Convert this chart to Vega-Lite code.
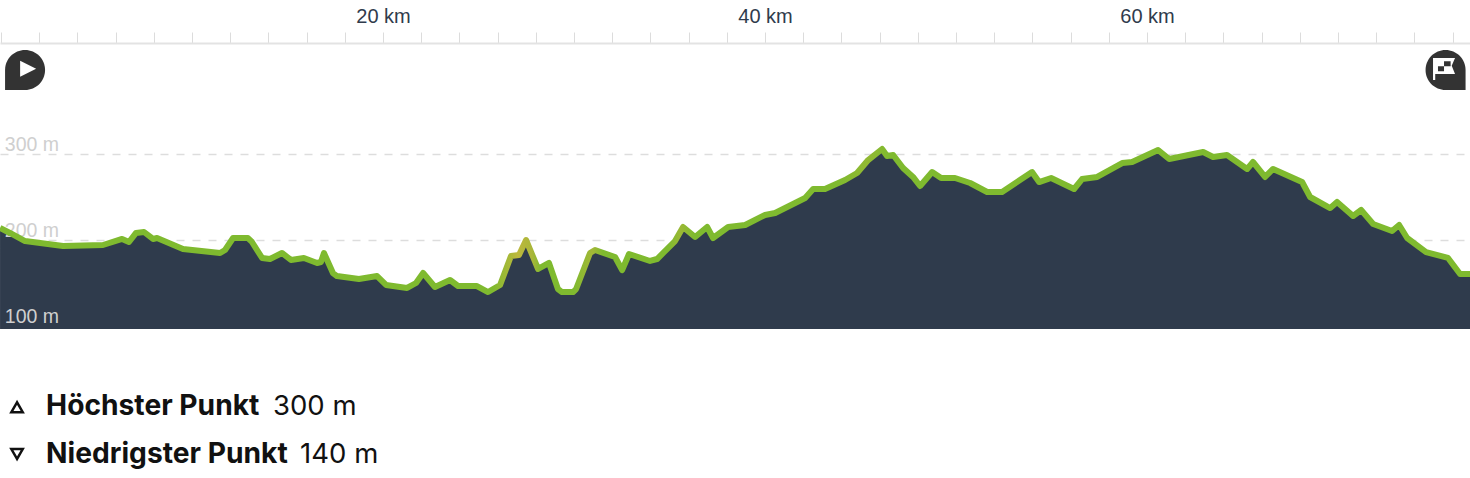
{"$schema":"https://vega.github.io/schema/vega-lite/v6.json","width":1470,"height":478,"autosize":{"type":"fit","contains":"padding"},"padding":0,"background":"#ffffff","view":{"stroke":null},
"datasets":{"profile":[
{"km":-0.05,"m":214},{"km":0.47,"m":208.2},{"km":1.26,"m":198.8},{"km":3.25,"m":193},{"km":5.34,"m":194.2},{"km":6.34,"m":201.2},{"km":6.7,"m":197.7},{"km":7.07,"m":208.2},{"km":7.49,"m":209.3},{"km":7.96,"m":201.2},{"km":8.17,"m":202.3},{"km":9.53,"m":189.5},{"km":11.47,"m":184.9},{"km":11.73,"m":188.4},{"km":12.15,"m":202.3},{"km":12.93,"m":202.3},{"km":13.14,"m":197.7},{"km":13.67,"m":179.1},{"km":14.08,"m":177.9},{"km":14.71,"m":184.9},{"km":15.18,"m":176.8},{"km":15.86,"m":179.1},{"km":16.55,"m":173.3},{"km":16.75,"m":174.4},{"km":16.91,"m":184.9},{"km":17.38,"m":161.6},{"km":17.59,"m":158.1},{"km":18.74,"m":154.7},{"km":19.69,"m":158.1},{"km":20.16,"m":147.7},{"km":21.26,"m":144.2},{"km":21.73,"m":150},{"km":22.1,"m":161.6},{"km":22.72,"m":145.3},{"km":23.51,"m":153.5},{"km":23.93,"m":146.5},{"km":24.92,"m":146.5},{"km":25.5,"m":139.5},{"km":26.13,"m":147.7},{"km":26.7,"m":181.4},{"km":27.12,"m":182.6},{"km":27.49,"m":200},{"km":28.12,"m":166.3},{"km":28.69,"m":173.3},{"km":29.16,"m":143},{"km":29.37,"m":139.5},{"km":29.95,"m":139.5},{"km":30.11,"m":143},{"km":30.84,"m":184.9},{"km":31.1,"m":188.4},{"km":32.15,"m":180.2},{"km":32.52,"m":165.1},{"km":32.88,"m":183.7},{"km":33.98,"m":175.6},{"km":34.35,"m":177.9},{"km":35.29,"m":198.8},{"km":35.71,"m":215.1},{"km":36.34,"m":203.5},{"km":36.97,"m":215.1},{"km":37.28,"m":202.3},{"km":38.07,"m":215.1},{"km":38.96,"m":217.4},{"km":40,"m":229.1},{"km":40.53,"m":231.4},{"km":42.1,"m":248.8},{"km":42.52,"m":259.3},{"km":43.14,"m":259.3},{"km":44.19,"m":269.8},{"km":44.82,"m":277.9},{"km":45.4,"m":293},{"km":46.13,"m":305.8},{"km":46.39,"m":297.7},{"km":46.71,"m":298.8},{"km":47.23,"m":283.7},{"km":47.75,"m":273.3},{"km":48.12,"m":262.8},{"km":48.75,"m":279},{"km":49.22,"m":272.1},{"km":49.95,"m":272.1},{"km":50.74,"m":266.3},{"km":51.63,"m":255.8},{"km":52.41,"m":255.8},{"km":53.98,"m":279},{"km":54.35,"m":267.4},{"km":54.98,"m":272.1},{"km":56.18,"m":259.3},{"km":56.6,"m":270.9},{"km":57.39,"m":273.3},{"km":58.7,"m":289.5},{"km":59.22,"m":290.7},{"km":60.58,"m":304.7},{"km":61.16,"m":294.2},{"km":62.94,"m":302.3},{"km":63.46,"m":296.5},{"km":64.19,"m":298.8},{"km":65.24,"m":282.6},{"km":65.55,"m":290.7},{"km":66.18,"m":273.3},{"km":66.6,"m":282.6},{"km":68.12,"m":267.4},{"km":68.54,"m":250},{"km":69.59,"m":237.2},{"km":69.95,"m":244.2},{"km":70.79,"m":227.9},{"km":71.21,"m":234.9},{"km":71.84,"m":218.6},{"km":72.83,"m":210.5},{"km":73.2,"m":217.4},{"km":73.62,"m":202.3},{"km":74.61,"m":186},{"km":75.76,"m":179.1},{"km":76.39,"m":160.5},{"km":76.91,"m":160.5}
]},
"data":{"name":"profile"},
"encoding":{
"x":{"field":"km","type":"quantitative","scale":{"domain":[-0.052,76.91],"nice":false,"zero":false},"axis":{"orient":"top","offset":-43,"title":null,"grid":false,"values":[0,2,4,6,8,10,12,14,16,18,20,22,24,26,28,30,32,34,36,38,40,42,44,46,48,50,52,54,56,58,60,62,64,66,68,70,72,74,76],"labelExpr":"indexof([20,40,60],datum.value)>=0 ? datum.value+' km' : ''","labelOverlap":false,"labelFlush":false,"labelFont":"Liberation Sans","labelFontSize":20,"labelColor":"#2f3b4c","labelPadding":6,"tickSize":11,"tickColor":"#dcdcdc","tickWidth":1,"domainColor":"#e3e3e3","domainWidth":2}},
"y":{"field":"m","type":"quantitative","scale":{"domain":[-76.74,479.07],"nice":false,"zero":false},"axis":{"orient":"left","title":null,"values":[100,200,300],"labels":false,"grid":true,"gridColor":"#dddddd","gridWidth":1.3,"gridDash":[8,8],"domain":false,"ticks":false,"zindex":0}}
},
"layer":[
{"mark":{"type":"area","color":"#2f3b4c","clip":true},"encoding":{"y2":{"datum":96.5}}},
{"data":{"values":[{"km":0.2,"m":300,"t":"300 m"},{"km":0.2,"m":200,"t":"200 m"},{"km":0.2,"m":100,"t":"100 m"}]},"mark":{"type":"text","align":"left","baseline":"alphabetic","dy":-3,"font":"Liberation Sans","fontSize":19.5,"color":"#cfcfcf"},"encoding":{"text":{"field":"t","type":"nominal"}}},
{"mark":{"type":"line","strokeWidth":6,"strokeJoin":"round","clip":true,"stroke":{"gradient":"linear","x1":0,"x2":1,"y1":0,"y2":0,"stops":[{"offset":0,"color":"#7fba2f"},{"offset":0.335,"color":"#7fba2f"},{"offset":0.352,"color":"#bdb83d"},{"offset":0.362,"color":"#a9b639"},{"offset":0.368,"color":"#7fba2f"},{"offset":0.39,"color":"#7fba2f"},{"offset":0.403,"color":"#a3b737"},{"offset":0.41,"color":"#7fba2f"},{"offset":0.455,"color":"#7fba2f"},{"offset":0.463,"color":"#9bb835"},{"offset":0.472,"color":"#7fba2f"},{"offset":0.57,"color":"#7fba2f"},{"offset":0.59,"color":"#92b933"},{"offset":0.605,"color":"#7fba2f"},{"offset":1,"color":"#7fba2f"}]}}},
{"data":{"values":[{"km":1.26,"m":397.7}]},"mark":{"type":"point","filled":true,"opacity":1,"fill":"#333333","strokeWidth":0,"size":1600,"shape":"M-1 0A1 1 0 1 1 0 1L-1 1Z"}},
{"data":{"values":[{"km":1.42,"m":399}]},"mark":{"type":"point","filled":true,"opacity":1,"fill":"#ffffff","strokeWidth":0,"size":256,"shape":"M-1 -1L1 0L-1 1Z"}},
{"data":{"values":[{"km":75.63,"m":397.7}]},"mark":{"type":"point","filled":true,"opacity":1,"fill":"#333333","strokeWidth":0,"size":1600,"shape":"M0 -1A1 1 0 0 1 1 0L1 1L0 1A1 1 0 0 1 0 -1Z"}},
{"data":{"values":[{"km":75.55,"m":398.8}]},"mark":{"type":"point","filled":true,"opacity":1,"fill":"#ffffff","strokeWidth":0,"size":484,"shape":"M-1 -1L1 -1L0.7 -0.3L1 0.45L-0.8 0.45L-0.8 1L-1 1Z M0 -0.7L0 -0.25L0.6 -0.25L0.6 -0.7Z M-0.55 -0.25L-0.55 0.2L0 0.2L0 -0.25Z"}},
{"data":{"values":[{"km":0.84,"m":5.5}]},"mark":{"type":"point","shape":"triangle-up","filled":false,"stroke":"#111111","strokeWidth":2.5,"opacity":1,"size":130}},
{"data":{"values":[{"km":0.84,"m":-48.8}]},"mark":{"type":"point","shape":"triangle-down","filled":false,"stroke":"#111111","strokeWidth":2.5,"opacity":1,"size":130}},
{"data":{"values":[{"km":2.36,"m":-3.5,"t":"Höchster Punkt"},{"km":2.36,"m":-59.3,"t":"Niedrigster Punkt"}]},"mark":{"type":"text","align":"left","baseline":"alphabetic","font":"Inter","fontSize":28.2,"fontWeight":"bold","color":"#111111"},"encoding":{"text":{"field":"t","type":"nominal"}}},
{"data":{"values":[{"km":14.24,"m":-3.5,"t":"300 m"},{"km":15.66,"m":-59.3,"t":"140 m"}]},"mark":{"type":"text","align":"left","baseline":"alphabetic","font":"Inter","fontSize":27.5,"fontWeight":"normal","color":"#111111"},"encoding":{"text":{"field":"t","type":"nominal"}}}
]}
